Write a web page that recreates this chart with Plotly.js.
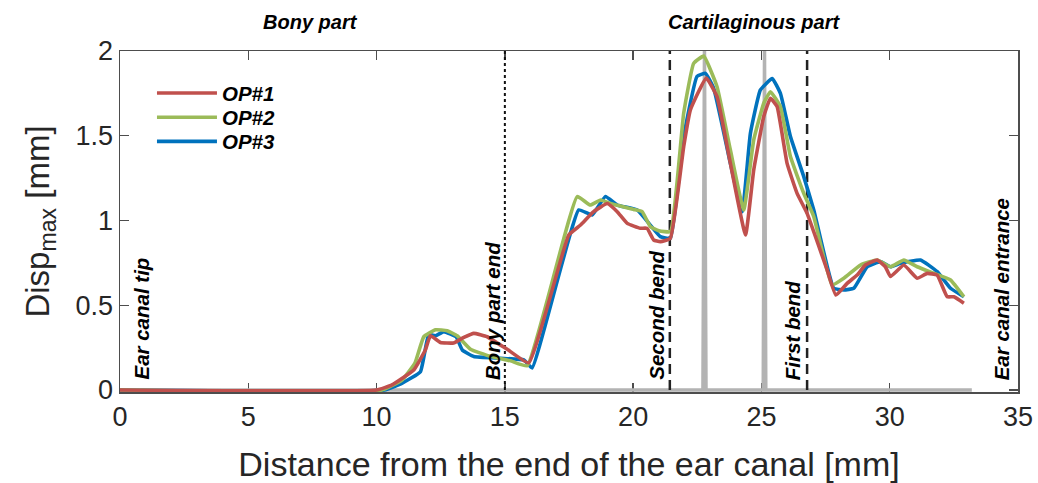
<!DOCTYPE html>
<html>
<head>
<meta charset="utf-8">
<script src="https://cdn.plot.ly/plotly-3.0.1.min.js"></script>
<style>html,body{margin:0;padding:0;background:#fff}#chart{width:1038px;height:483px}</style>
</head>
<body>
<div id="chart"></div>
<script>
// ---- data ----
const seriesNames = ["OP#1", "OP#2", "OP#3"];

const op1X = [0, 10.0, 10.6, 11.45, 11.9, 12.1, 12.49, 13.0, 13.4, 13.79, 14.31, 15.09, 15.93, 17.49, 17.95, 18.46, 18.99, 19.38, 19.77, 20.28, 20.54, 20.8, 21.06, 21.45, 21.97, 22.23, 22.85, 23.27, 23.79, 24.38, 24.70, 25.09, 25.35, 25.61, 26.0, 26.39, 26.78, 27.56, 27.9, 28.34, 28.73, 29.05, 29.51, 29.83, 30.03, 30.55, 31.07, 31.46, 31.85, 32.24, 32.5, 32.89];
const op1Y = [0, 0, 0.03, 0.118, 0.236, 0.32, 0.28, 0.277, 0.31, 0.334, 0.314, 0.24, 0.16, 0.914, 0.973, 1.052, 1.10, 1.052, 0.983, 0.954, 0.954, 0.885, 0.875, 0.895, 1.436, 1.652, 1.84, 1.73, 1.337, 0.914, 1.298, 1.613, 1.721, 1.672, 1.337, 1.16, 1.042, 0.708, 0.56, 0.629, 0.678, 0.737, 0.767, 0.727, 0.669, 0.737, 0.659, 0.688, 0.678, 0.55, 0.55, 0.512];

const op2X = [0, 10.2, 11.0, 11.5, 11.84, 12.3, 12.75, 13.14, 13.66, 14.4, 15.22, 15.87, 17.82, 18.33, 18.73, 19.12, 20.02, 20.35, 20.67, 21.0, 21.45, 21.97, 22.36, 22.75, 23.27, 23.79, 24.31, 24.70, 25.09, 25.35, 25.74, 26.13, 26.65, 27.04, 27.75, 28.21, 28.86, 29.51, 30.03, 30.55, 31.07, 31.72, 32.37, 32.89];
const op2Y = [0, 0, 0.06, 0.16, 0.314, 0.355, 0.35, 0.32, 0.24, 0.2, 0.172, 0.143, 1.141, 1.091, 1.121, 1.10, 1.065, 1.052, 0.964, 0.94, 0.934, 1.633, 1.927, 1.97, 1.789, 1.416, 1.062, 1.475, 1.692, 1.76, 1.672, 1.377, 1.16, 1.023, 0.619, 0.659, 0.737, 0.767, 0.727, 0.767, 0.727, 0.688, 0.649, 0.55];

const op3X = [0, 10.3, 11.0, 11.71, 12.03, 12.3, 12.62, 13.1, 13.34, 13.79, 14.83, 15.74, 16.06, 17.88, 18.40, 18.92, 19.38, 20.16, 20.67, 21.06, 21.45, 21.97, 22.49, 22.82, 23.14, 23.79, 24.25, 24.57, 24.96, 25.42, 25.74, 26.13, 26.65, 27.04, 27.82, 28.21, 28.6, 29.12, 29.64, 30.03, 30.42, 31.2, 31.85, 32.37, 32.89];
const op3Y = [0, 0, 0.04, 0.108, 0.328, 0.32, 0.344, 0.314, 0.236, 0.197, 0.187, 0.177, 0.13, 1.062, 1.032, 1.141, 1.091, 1.062, 0.973, 0.905, 0.895, 1.495, 1.85, 1.868, 1.78, 1.337, 1.052, 1.514, 1.77, 1.838, 1.75, 1.495, 1.259, 1.062, 0.60, 0.59, 0.60, 0.727, 0.757, 0.727, 0.747, 0.767, 0.698, 0.60, 0.55];

// grey reference trace (baseline with two narrow spikes)
const refX = [0, 22.72, 22.78, 22.84, 25.07, 25.12, 25.17, 33.2];
const refY = [0, 0, 2, 0, 0, 2, 0, 0];

// region boundaries
const bonyEndX = 15;
const bendX = [21.43, 26.78];
const yLimits = [0, 2];
const yRange = [-0.012, 2];

// label texts
const regionLabels = ["Bony part", "Cartilaginous part"];
const regionLabelX = [7.42, 24.7];
const markerLabels = ["Ear canal tip", "Bony part end", "Second bend", "First bend", "Ear canal entrance"];
const markerLabelX = [0.8, 14.5, 20.9, 26.2, 34.35];

const xTicks = [0, 5, 10, 15, 20, 25, 30, 35];
const yTicks = [0, 0.5, 1, 1.5, 2];
const yTickText = ["0", "0.5", "1", "1.5", "2"];

// ---- styling ----
const colors = {op1: "#c0504d", op2: "#9bbb59", op3: "#0072bd", ref: "#b3b3b3"};
const FONT = "Liberation Sans, Arial, Helvetica, sans-serif";
const lw = 3.6;
const spl = {shape: "spline", smoothing: 0.35};

const traces = [
  {x: refX, y: refY, mode: "lines", line: {color: colors.ref, width: 3.5}, showlegend: false, hoverinfo: "skip", cliponaxis: false},
  {x: [bonyEndX, bonyEndX], y: yLimits, mode: "lines", line: {color: "#111", width: 2, dash: "dot"}, showlegend: false, hoverinfo: "skip"},
  {x: [bendX[0], bendX[0]], y: yLimits, mode: "lines", line: {color: "#222", width: 2.5, dash: "10px,6px"}, showlegend: false, hoverinfo: "skip"},
  {x: [bendX[1], bendX[1]], y: yLimits, mode: "lines", line: {color: "#222", width: 2.5, dash: "10px,6px"}, showlegend: false, hoverinfo: "skip"},
  {x: op3X, y: op3Y, name: seriesNames[2], mode: "lines", line: Object.assign({color: colors.op3, width: lw}, spl), legend: "legend3", cliponaxis: false},
  {x: op2X, y: op2Y, name: seriesNames[1], mode: "lines", line: Object.assign({color: colors.op2, width: lw}, spl), legend: "legend2", cliponaxis: false},
  {x: op1X, y: op1Y, name: seriesNames[0], mode: "lines", line: Object.assign({color: colors.op1, width: lw}, spl), legend: "legend", cliponaxis: false}
];

const annotations = [];
regionLabels.forEach((t, i) => annotations.push({
  text: t, x: regionLabelX[i], xref: "x", y: 1.085, yref: "paper", showarrow: false,
  xanchor: "center", yanchor: "middle",
  font: {family: FONT, size: 20, color: "#000", weight: "bold", style: "italic"}
}));
markerLabels.forEach((t, i) => annotations.push({
  text: t, x: markerLabelX[i], xref: "x", y: 0.047, yref: "y", showarrow: false,
  textangle: -90, xanchor: "center", yanchor: "bottom",
  font: {family: FONT, size: 20.5, color: "#000", weight: "bold", style: "italic"}
}));

const axisCommon = {
  showgrid: false, zeroline: false, showline: true, linecolor: "#4d4d4d", linewidth: 1.5,
  mirror: "ticks", ticks: "inside", ticklen: 9, tickwidth: 1.3, tickcolor: "#4d4d4d",
  layer: "below traces",
  tickfont: {family: FONT, size: 27, color: "#262626"}
};

const legFont = {family: FONT, size: 20.5, color: "#000", weight: "bold", style: "italic"};
const legBase = {x: 0.0356, xanchor: "left", yanchor: "top", bgcolor: "rgba(0,0,0,0)", itemwidth: 60, font: legFont};

const layout = {
  width: 1038, height: 483,
  margin: {l: 120, r: 20, t: 51, b: 91},
  paper_bgcolor: "#fff", plot_bgcolor: "#fff",
  showlegend: true,
  legend: Object.assign({}, legBase, {y: 0.935}),
  legend2: Object.assign({}, legBase, {y: 0.864}),
  legend3: Object.assign({}, legBase, {y: 0.793}),
  xaxis: Object.assign({}, axisCommon, {
    range: [0, 35], tickvals: xTicks, ticktext: xTicks.map(String),
    title: {text: "Distance from the end of the ear canal [mm]", standoff: 22,
            font: {family: FONT, size: 34, color: "#262626"}}
  }),
  yaxis: Object.assign({}, axisCommon, {
    range: yRange, tickvals: yTicks, ticktext: yTickText,
    title: {text: "Disp<sub>max</sub> [mm]", standoff: 16,
            font: {family: FONT, size: 33, color: "#262626"}}
  }),
  annotations: annotations
};

Plotly.newPlot("chart", traces, layout, {staticPlot: true, displayModeBar: false});
</script>
</body>
</html>
